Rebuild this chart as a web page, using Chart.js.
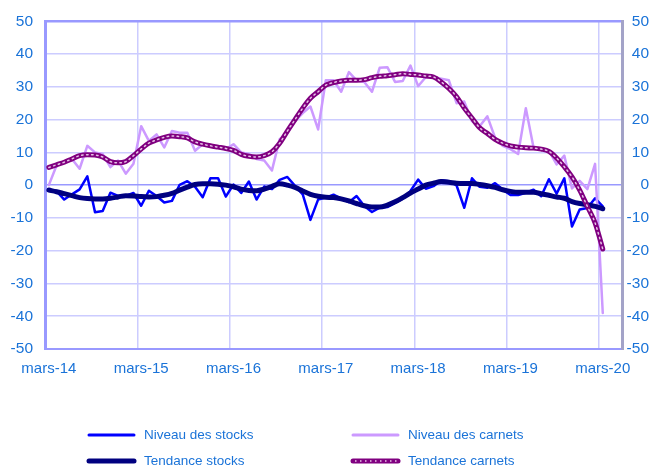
<!DOCTYPE html>
<html lang="fr">
<head>
<meta charset="utf-8">
<title>Stocks et carnets</title>
<script src="https://cdn.jsdelivr.net/npm/chart.js@4.4.1/dist/chart.umd.min.js"></script>
<style>
  html, body { margin: 0; padding: 0; background: #fff; }
  .chart-container { position: relative; width: 649px; height: 467px; }
</style>
</head>
<body>
<section class="chart-container">
  <canvas id="line-chart"></canvas>
</section>
<script>
// mois (mars-14 -> mai-20), un point par mois jusqu'a mars-20
const mois = ["mars", "avr.", "mai", "juin", "juil.", "août", "sept.", "oct.", "nov.", "déc.", "janv.", "févr."];
const nbCategories = 75;
const labels = [];
for (let k = 0; k < nbCategories; k++) {
  labels.push(mois[k % 12] + "-" + (14 + Math.floor((k + 2) / 12)));
}

const yTicks = [-50, -40, -30, -20, -10, 0, 10, 20, 30, 40, 50];

const nivStocks = [
  -1.5, -1.8, -4.4, -2.8, -1.3, 2.7, -8.3, -7.9, -2.3, -3.3, -3.3, -2.4,
  -6.3, -1.7, -3.3, -5.3, -4.8, 0.1, 1.2, -0.5, -3.7, 2.1, 2.1, -3.5,
  0.2, -2.4, 1.1, -4.4, -0.4, -1.2, 1.6, 2.5, -0.2, -2.8, -10.6, -4.4,
  -3.8, -2.9, -4.1, -5.2, -3.3, -6.4, -8.2, -6.9, -6.7, -5.4, -4.1, -1.8,
  1.7, -1.1, -0.3, 1.5, 1.2, -0.1, -6.9, 2.1, -0.5, -0.8, 0.6, -1.3,
  -3.0, -3.0, -2.3, -1.4, -3.4, 1.8, -2.6, 2.1, -12.6, -7.4, -7.0, -4.0,
  -6.5
];

const tendStocks = [
  -1.5, -2.0, -2.6, -3.2, -3.8, -4.1, -4.2, -4.2, -4.0, -3.6, -3.2, -3.3,
  -3.5, -3.6, -3.5, -3.1, -2.5, -1.5, -0.6, 0.2, 0.4, 0.4, 0.3, 0.0,
  -0.5, -1.2, -1.6, -1.7, -1.2, -0.4, 0.4, 0.0, -0.7, -1.8, -2.8, -3.4,
  -3.7, -3.8, -4.2, -4.8, -5.6, -6.3, -6.7, -6.7, -6.1, -5.1, -3.8, -2.4,
  -1.2, 0.0, 0.6, 1.1, 0.9, 0.6, 0.5, 0.5, 0.2, -0.2, -0.7, -1.4,
  -1.9, -2.2, -2.2, -2.2, -2.6, -3.1, -3.6, -4.0, -5.0, -5.6, -6.0, -6.5,
  -7.2
];

const nivCarnets = [
  0, 6, 7, 8, 5, 12, 10, 9.5, 5.5, 7.5, 3.5, 6.5,
  18, 13.5, 15.5, 11.5, 16.5, 16, 16, 10.5, 12.5, 12, 11.5, 11,
  12.5, 10, 9.5, 8, 7.5, 4.5, 14, 16, 19.5, 22, 24, 17,
  32, 32, 28.5, 34.5, 32, 31.5, 28.5, 35.8, 36, 31.5, 31.8, 36.5,
  30.2, 33, 33, 32.5, 32, 25, 25.5, 19.5, 18, 21, 14.5, 12,
  11, 9.5, 23.5, 11.5, 11, 10.5, 6.3, 9, -1, 1.3, -1.2, 6.5,
  -39
];

const tendCarnets = [
  5.4, 6.2, 7.0, 8.0, 9.0, 9.3, 9.2, 8.6, 7.2, 6.8, 7.2, 9.0,
  11.0, 12.8, 13.8, 14.6, 15.0, 14.8, 14.4, 13.2, 12.5, 12.0, 11.6, 11.2,
  10.6, 9.4, 8.8, 8.6, 9.0, 10.2, 12.8, 16.5, 20.0, 23.5, 26.5, 28.5,
  30.5, 31.3, 31.8, 32.0, 32.0, 32.2, 32.8, 33.2, 33.4, 33.7, 34.0, 33.8,
  33.6, 33.3, 33.0, 31.5, 29.5, 27.0, 23.5, 20.5, 17.5, 15.8, 14.0, 12.8,
  12.0, 11.6, 11.4, 11.3, 11.0, 10.3, 8.3, 5.6, 2.5, -1.5, -6.5, -11.5,
  -19.5
];

const texteBleu = "#1a73d8";
const gridClair = "#ccccff";
const gridFonce = "#9999ff";

const legendeItems = [
  { text: "Niveau des stocks", color: "#0000ff", width: 3, col: 0, row: 0 },
  { text: "Niveau des carnets", color: "#cc99ff", width: 3, col: 1, row: 0 },
  { text: "Tendance stocks", color: "#000080", width: 5, col: 0, row: 1 },
  { text: "Tendance carnets", color: "#800080", width: 5, col: 1, row: 1, dots: true },
];

// legende sur deux colonnes, dessinee sous le graphique
const legendePlugin = {
  id: "legendeGrille",
  afterDraw(chart) {
    const ctx = chart.ctx;
    const colX = [89, 353];
    const rowY = [435, 461];
    ctx.save();
    ctx.font = '13.5px "Liberation Sans", Arial, sans-serif';
    ctx.textBaseline = "middle";
    ctx.textAlign = "left";
    legendeItems.forEach((item) => {
      const x = colX[item.col];
      const y = rowY[item.row];
      ctx.beginPath();
      ctx.lineCap = "round";
      ctx.strokeStyle = item.color;
      ctx.lineWidth = item.width;
      ctx.moveTo(x, y);
      ctx.lineTo(x + 45, y);
      ctx.stroke();
      if (item.dots) {
        ctx.beginPath();
        ctx.lineCap = "butt";
        ctx.setLineDash([1.5, 3.5]);
        ctx.strokeStyle = "#e6c3e6";
        ctx.lineWidth = 1.5;
        ctx.moveTo(x + 2, y);
        ctx.lineTo(x + 44, y);
        ctx.stroke();
        ctx.setLineDash([]);
      }
      ctx.fillStyle = texteBleu;
      ctx.fillText(item.text, x + 55, y);
    });
    ctx.restore();
  },
};

const canvas = document.getElementById("line-chart");

new Chart(canvas, {
  type: "line",
  data: {
    labels: labels,
    datasets: [
      {
        // pointilles clairs au centre de la tendance carnets
        label: "",
        data: tendCarnets,
        borderColor: "#e6c3e6",
        borderWidth: 1.5,
        borderDash: [1.5, 3.5],
        cubicInterpolationMode: "monotone",
      },
      {
        label: "Tendance carnets",
        data: tendCarnets,
        borderColor: "#800080",
        borderWidth: 5,
        cubicInterpolationMode: "monotone",
      },
      {
        label: "Tendance stocks",
        data: tendStocks,
        borderColor: "#000080",
        borderWidth: 5,
        cubicInterpolationMode: "monotone",
      },
      {
        label: "Niveau des carnets",
        data: nivCarnets,
        borderColor: "#cc99ff",
        borderWidth: 2.5,
        tension: 0,
      },
      {
        label: "Niveau des stocks",
        data: nivStocks,
        borderColor: "#0000ff",
        borderWidth: 2.5,
        tension: 0,
      },
    ],
  },
  options: {
    responsive: true,
    maintainAspectRatio: false,
    animation: false,
    layout: {
      padding: { top: 20, bottom: 88, left: 0, right: 0 },
    },
    elements: {
      point: { radius: 0 },
      line: { fill: false, borderCapStyle: "round", borderJoinStyle: "round" },
    },
    plugins: {
      legend: { display: false },
      tooltip: { enabled: false },
    },
    scales: {
      x: {
        type: "category",
        offset: true,
        grid: {
          offset: true,
          drawTicks: false,
          lineWidth: 1.5,
          color: (c) => (c.index !== undefined && c.index > 0 && c.index % 12 === 0 ? gridClair : "transparent"),
        },
        border: { color: gridFonce, width: 2 },
        ticks: {
          autoSkip: false,
          maxRotation: 0,
          padding: 11,
          color: texteBleu,
          font: { family: '"Liberation Sans", Arial, sans-serif', size: 15 },
          callback: (value, index) => (index % 12 === 0 ? labels[index] : ""),
        },
        afterFit: (scale) => {
          scale.height = 30;
        },
      },
      y: {
        position: "left",
        min: -50,
        max: 50,
        afterBuildTicks: (scale) => {
          scale.ticks = yTicks.map((v) => ({ value: v }));
        },
        grid: {
          drawTicks: false,
          color: (c) => (c.tick && [0, 50, -50].includes(c.tick.value) ? gridFonce : gridClair),
          lineWidth: (c) => (c.tick && c.tick.value === 50 ? 2.5 : 1.5),
        },
        border: { color: gridFonce, width: 3 },
        ticks: {
          padding: 12,
          color: texteBleu,
          font: { family: '"Liberation Sans", Arial, sans-serif', size: 15.5 },
        },
        afterFit: (scale) => {
          scale.width = 45;
        },
      },
      y1: {
        position: "right",
        min: -50,
        max: 50,
        afterBuildTicks: (scale) => {
          scale.ticks = yTicks.map((v) => ({ value: v }));
        },
        grid: { drawOnChartArea: false, drawTicks: false },
        border: { color: "#a3a3c8", width: 3 },
        ticks: {
          padding: 5,
          crossAlign: "far",
          color: texteBleu,
          font: { family: '"Liberation Sans", Arial, sans-serif', size: 15.5 },
        },
        afterFit: (scale) => {
          scale.width = 27;
        },
      },
    },
  },
  plugins: [legendePlugin],
});
</script>
</body>
</html>
